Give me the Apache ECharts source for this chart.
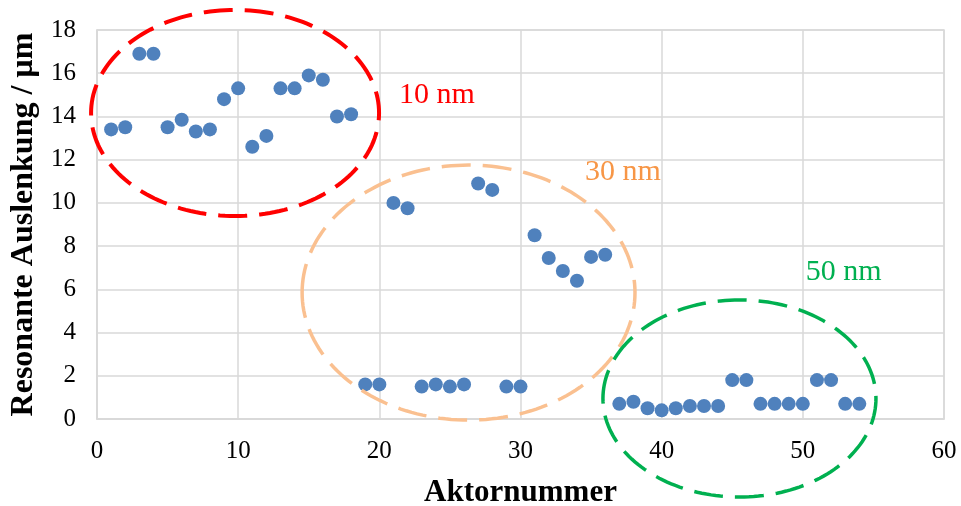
<!DOCTYPE html>
<html>
<head>
<meta charset="utf-8">
<script src="https://cdn.jsdelivr.net/npm/echarts@6/dist/echarts.min.js"></script>
<style>html,body{margin:0;padding:0;background:#fff}#c{width:961px;height:506px}</style>
</head>
<body>
<div id="c"></div>
<script>
// Actor numbers 1..54
const actors = [1,2,3,4,5,6,7,8,9,10,11,12,13,14,15,16,17,18,19,20,21,22,23,24,25,26,27,28,29,30,31,32,33,34,35,36,37,38,39,40,41,42,43,44,45,46,47,48,49,50,51,52,53,54];
// Resonant deflection in µm
const deflection = [13.4,13.5,16.9,16.9,13.5,13.85,13.3,13.4,14.8,15.3,12.6,13.1,15.3,15.3,15.9,15.7,14.0,14.1,
  1.6,1.6,10.0,9.75,1.5,1.6,1.5,1.6,10.9,10.6,1.5,1.5,8.5,7.45,6.85,6.4,7.5,7.6,
  0.7,0.8,0.5,0.4,0.5,0.6,0.6,0.6,1.8,1.8,0.7,0.7,0.7,0.7,1.8,1.8,0.7,0.7];
const xTicks = [0,10,20,30,40,50,60];
const yTicks = [0,2,4,6,8,10,12,14,16,18];
// Group annotations: label, ellipse centre/radii in data units, label position
const groupLabels = ['10 nm','30 nm','50 nm'];
const groupEllipses = [[9.78,14.16,10.2,4.77],[26.32,5.85,11.79,5.9],[45.51,0.95,9.67,4.56]];
const groupLabelPos = [[24.08,14.99],[37.26,11.43],[52.9,6.8]];

const ellipseStyles = [
  {stroke:'#FF0000', lineWidth:4, lineDash:[29,12]},
  {stroke:'#FAC090', lineWidth:3.5, lineDash:[29,12]},
  {stroke:'#00B050', lineWidth:3.5, lineDash:[29,12]}
];
const labelColors = ['#FF0000','#F79646','#00B050'];

const points = actors.map((a,i)=>[a, deflection[i]]);
const font = '"Liberation Serif", "Times New Roman", serif';

const chart = echarts.init(document.getElementById('c'), null, {renderer:'canvas'});
chart.setOption({
  animation:false,
  backgroundColor:'#fff',
  grid:{left:97,right:17,top:30,bottom:87,containLabel:false,outerBoundsMode:'none',show:true,borderColor:'#D9D9D9',borderWidth:1.5},
  xAxis:{type:'value',min:xTicks[0],max:xTicks[xTicks.length-1],interval:10,
    name:'Aktornummer',nameLocation:'middle',nameGap:58,
    nameTextStyle:{fontFamily:font,fontWeight:'bold',fontSize:31,color:'#000'},
    axisLine:{lineStyle:{color:'#D9D9D9',width:1.5}},axisTick:{show:false},
    axisLabel:{fontFamily:font,fontSize:25,color:'#000',margin:20},
    splitLine:{lineStyle:{color:'#D9D9D9',width:1.5}}},
  yAxis:{type:'value',min:yTicks[0],max:yTicks[yTicks.length-1],interval:2,
    name:'Resonante Auslenkung / µm',nameLocation:'middle',nameGap:54,
    nameTextStyle:{fontFamily:font,fontWeight:'bold',fontSize:32,color:'#000'},
    axisLine:{show:true,lineStyle:{color:'#D9D9D9',width:1.5}},axisTick:{show:false},
    axisLabel:{fontFamily:font,fontSize:25,color:'#000',margin:21},
    splitLine:{lineStyle:{color:'#D9D9D9',width:1.5}}},
  series:[
    {type:'scatter',data:points,symbolSize:14,itemStyle:{color:'#4F81BD',opacity:1},z:3},
    {type:'custom',clip:false,z:4,silent:true,
      data:groupEllipses.map((e,i)=>[e[0],e[1],e[2],e[3],i]),
      renderItem:function(params,api){
        const i = api.value(4);
        const c = api.coord([api.value(0),api.value(1)]);
        const s = api.size([api.value(2),api.value(3)]);
        const pts=[];
        const N=180;
        for(let k=0;k<N;k++){
          const t = Math.PI - 2*Math.PI*k/N;
          pts.push([c[0]+s[0]*Math.cos(t), c[1]-s[1]*Math.sin(t)]);
        }
        return {type:'polygon',shape:{points:pts},style:Object.assign({fill:null,lineCap:'butt'},ellipseStyles[i])};
      }},
    {type:'custom',clip:false,z:5,silent:true,
      data:groupLabelPos.map((p,i)=>[p[0],p[1],i]),
      renderItem:function(params,api){
        const i = api.value(2);
        const c = api.coord([api.value(0),api.value(1)]);
        return {type:'text',x:c[0],y:c[1],style:{text:groupLabels[i],fill:labelColors[i],
          font:'30px "Liberation Serif", "Times New Roman", serif',align:'center',verticalAlign:'middle'}};
      }}
  ]
});
</script>
</body>
</html>
